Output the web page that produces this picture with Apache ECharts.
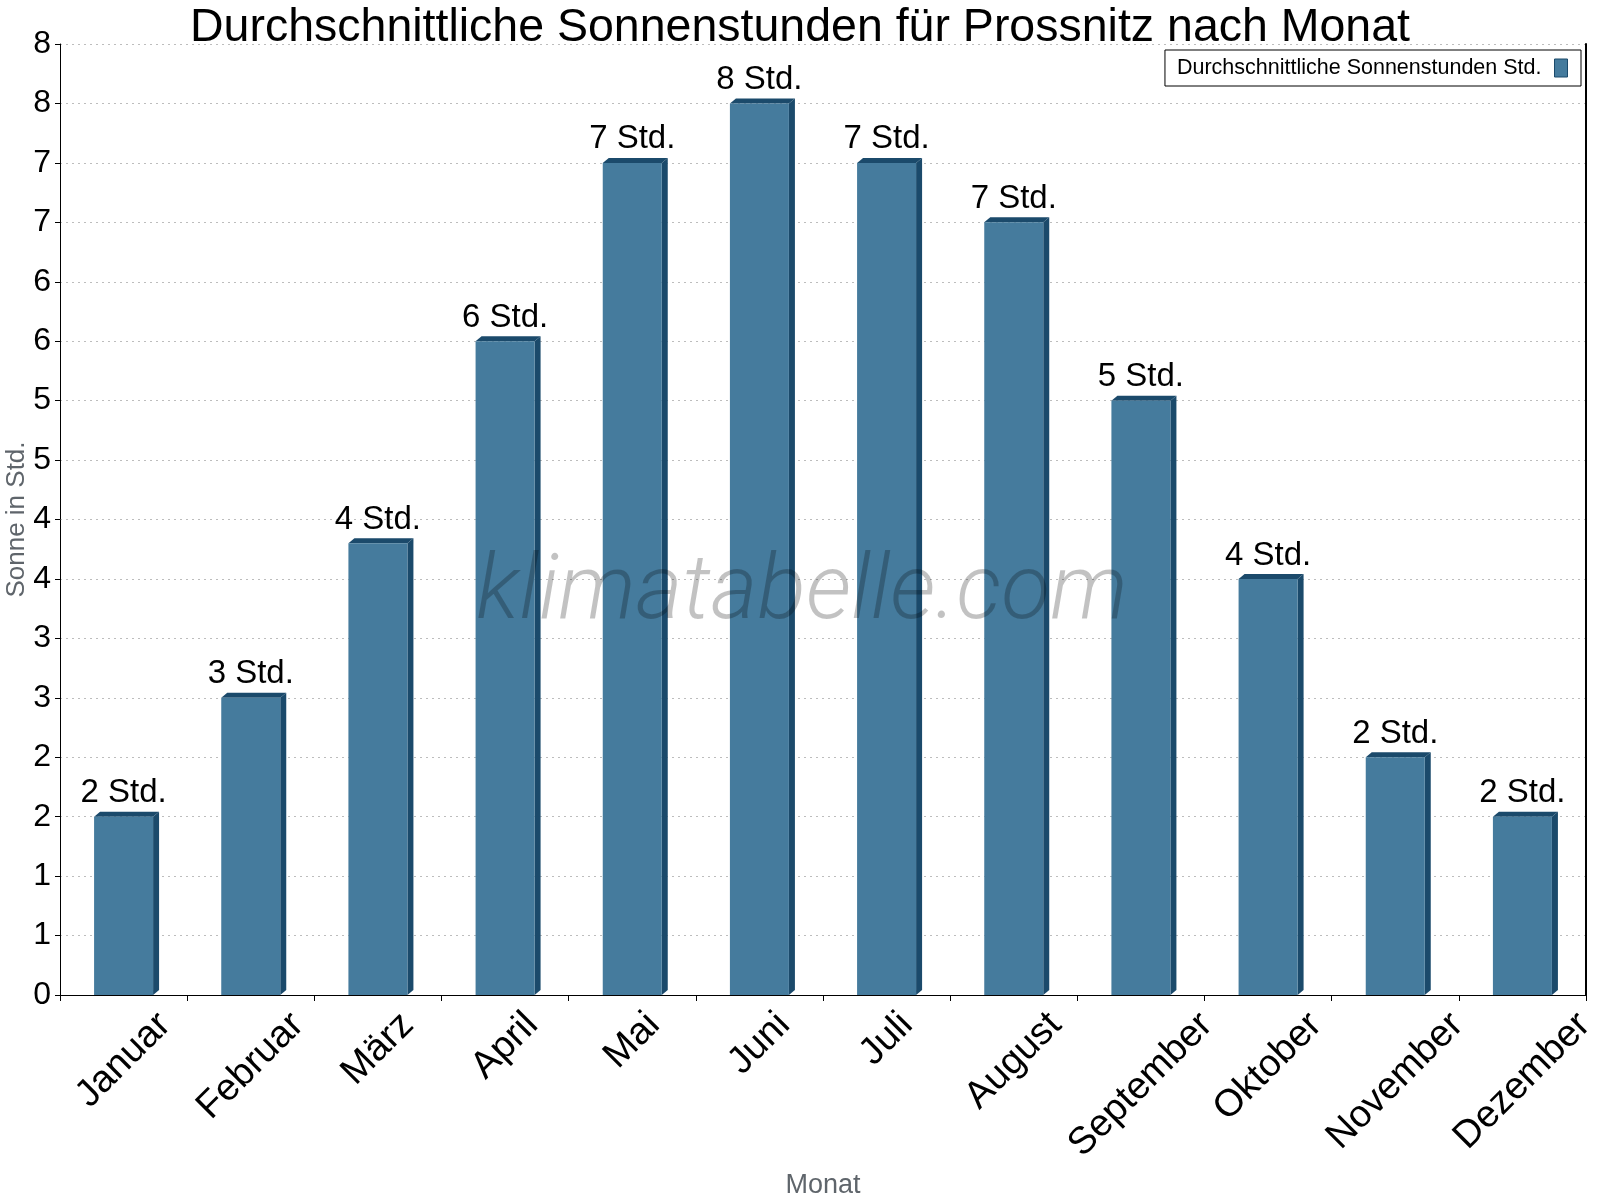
<!DOCTYPE html>
<html>
<head>
<meta charset="utf-8">
<script src="https://cdn.jsdelivr.net/npm/echarts@6/dist/echarts.min.js"></script>
<style>
html,body{margin:0;padding:0;background:#fff;}
#chart{width:1600px;height:1200px;}
</style>
</head>
<body>
<div id="chart"></div>
<script>
const months = ['Januar','Februar','März','April','Mai','Juni','Juli','August','September','Oktober','November','Dezember'];
const sunHours = [1.5, 2.5, 3.8, 5.5, 7.0, 7.5, 7.0, 6.5, 5.0, 3.5, 2.0, 1.5];
const valueLabels = ['2 Std.','3 Std.','4 Std.','6 Std.','7 Std.','8 Std.','7 Std.','7 Std.','5 Std.','4 Std.','2 Std.','2 Std.'];
const yMin = 0, yMax = 8, yStep = 0.5;

const FONT = "'Liberation Sans', Arial, sans-serif";
const FRONT = '#457b9d';
const DARK = '#1b4a6b';
const BAR_RATIO = 0.464;
const DX = 6, DY = 5;
const XL_FS = 38;

const measureCtx = document.createElement('canvas').getContext('2d');
measureCtx.font = XL_FS + "px 'Liberation Sans'";

const chart = echarts.init(document.getElementById('chart'), null, {renderer: 'canvas'});

const option = {
  animation: false,
  backgroundColor: '#fff',
  title: {
    text: 'Durchschnittliche Sonnenstunden für Prossnitz nach Monat',
    left: 'center',
    top: 0,
    textStyle: {fontSize: 46.5, fontWeight: 'normal', color: '#000', fontFamily: FONT}
  },
  legend: {
    data: ['Durchschnittliche Sonnenstunden Std.'],
    right: 19,
    top: 50,
    align: 'right',
    icon: 'rect',
    itemWidth: 13,
    itemHeight: 18,
    padding: [7, 13, 7, 12],
    borderColor: '#000',
    borderWidth: 1,
    borderRadius: 0,
    backgroundColor: '#fff',
    itemStyle: {color: FRONT, borderColor: DARK, borderWidth: 1},
    textStyle: {fontSize: 21.5, color: '#000', fontFamily: FONT, padding: [0, 8, 0, 0]}
  },
  grid: {left: 60, right: 14, top: 44, bottom: 205, containLabel: false, outerBoundsMode: 'none'},
  xAxis: {
    type: 'category',
    data: months,
    name: 'Monat',
    nameLocation: 'middle',
    nameGap: 177,
    nameMoveOverlap: false,
    nameTextStyle: {fontSize: 27, color: '#5f656b', fontFamily: FONT},
    axisLine: {show: true, lineStyle: {color: '#000', width: 1}},
    axisTick: {show: true, length: 6, lineStyle: {color: '#000'}},
    axisLabel: {show: false},
    splitLine: {show: false}
  },
  yAxis: [{
    type: 'value',
    min: yMin,
    max: yMax,
    interval: yStep,
    name: 'Sonne in Std.',
    nameLocation: 'middle',
    nameGap: 30,
    nameMoveOverlap: false,
    nameTextStyle: {fontSize: 26, color: '#5f656b', fontFamily: FONT},
    axisLine: {show: true, lineStyle: {color: '#000', width: 1}},
    axisTick: {show: true, length: 5, lineStyle: {color: '#000'}},
    axisLabel: {
      fontSize: 32, color: '#000', fontFamily: FONT, margin: 9,
      formatter: v => String(Math.round(v))
    },
    splitLine: {show: true, lineStyle: {color: '#bdbdbd', type: [2, 4], width: 1}}
  }, {
    type: 'value',
    position: 'right',
    min: yMin,
    max: yMax,
    interval: yStep,
    axisLine: {show: true, lineStyle: {color: '#000', width: 2}},
    axisTick: {show: false},
    axisLabel: {show: false},
    splitLine: {show: false}
  }],
  graphic: [{
    type: 'text',
    x: 802,
    y: 595,
    z: 100,
    silent: true,
    style: {
      text: 'klimatabelle.com',
      fontSize: 90,
      fontStyle: 'italic',
      fontWeight: 300,
      fontFamily: 'Roboto',
      fill: 'rgba(0,0,0,0.24)',
      align: 'center',
      verticalAlign: 'middle'
    }
  }],
  series: [
    {
      name: 'Durchschnittliche Sonnenstunden Std.',
      type: 'bar',
      data: sunHours,
      barWidth: (BAR_RATIO * 100) + '%',
      itemStyle: {color: FRONT},
      label: {
        show: true,
        position: 'top',
        distance: 7,
        fontSize: 33,
        color: '#000',
        fontFamily: FONT,
        formatter: p => valueLabels[p.dataIndex]
      }
    },
    {
      name: '3d',
      type: 'custom',
      silent: true,
      data: sunHours.map((v, i) => [i, v]),
      encode: {x: 0, y: 1},
      renderItem: function (params, api) {
        const i = api.value(0);
        const v = api.value(1);
        const top = api.coord([i, v]);
        const base = api.coord([i, 0]);
        const w = api.size([1, 0])[0] * BAR_RATIO;
        const x0 = top[0] - w / 2, x1 = top[0] + w / 2;
        return {
          type: 'group',
          children: [
            {type: 'polygon', shape: {points: [[x1, top[1]], [x1 + DX, top[1] - DY], [x1 + DX, base[1] - DY], [x1, base[1]]]}, style: {fill: DARK}},
            {type: 'polygon', shape: {points: [[x0, top[1]], [x0 + DX, top[1] - DY], [x1 + DX, top[1] - DY], [x1, top[1]]]}, style: {fill: DARK}}
          ]
        };
      }
    },
    {
      name: 'xlabels',
      type: 'custom',
      silent: true,
      data: months.map((m, i) => [i, 0]),
      encode: {x: 0, y: 1},
      renderItem: function (params, api) {
        const i = api.value(0);
        const p = api.coord([i, 0]);
        const txt = months[i];
        const W = measureCtx.measureText(txt).width;
        const cy = p[1] + 14 + (W + 0.75 * XL_FS) * 0.35355;
        return {
          type: 'text',
          x: p[0],
          y: cy,
          rotation: Math.PI / 4,
          style: {
            text: txt,
            fontSize: XL_FS,
            fontFamily: FONT,
            fill: '#000',
            align: 'center',
            verticalAlign: 'middle'
          }
        };
      }
    }
  ]
};

chart.setOption(option);
</script>
</body>
</html>
